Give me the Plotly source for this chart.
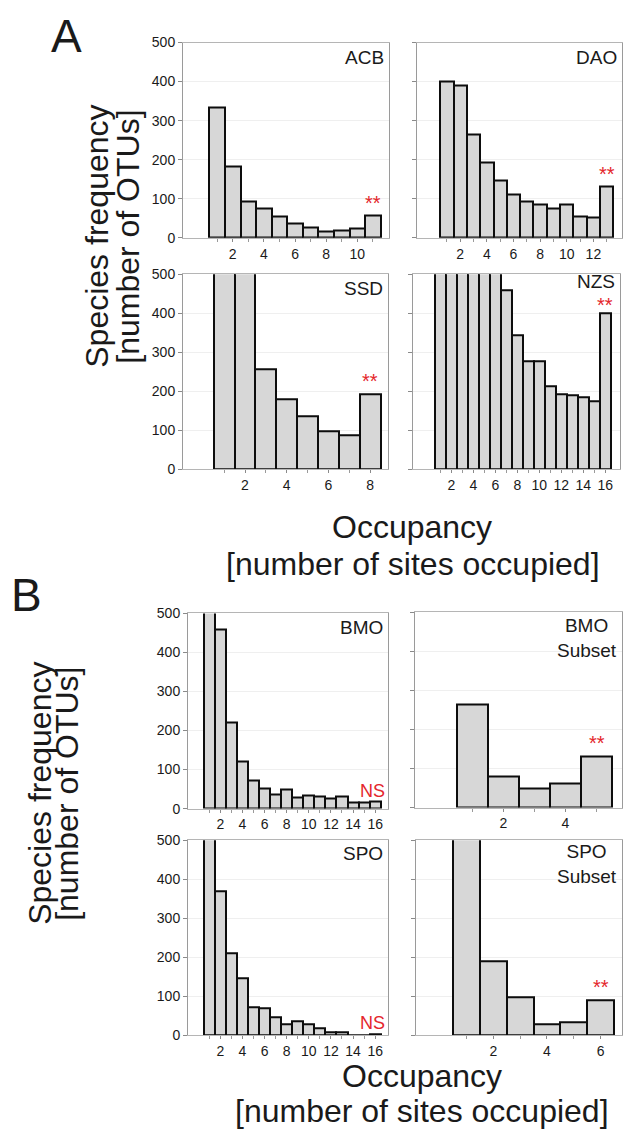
import plotly.graph_objects as go

# ---------------- data ----------------
# Bars that run off the top of the 0-500 axis are clipped in the original; their
# true heights are unknown, so values above 500 are only estimates.
panel_names = ["ACB", "DAO", "SSD", "NZS", "BMO", "BMO<br>Subset", "SPO", "SPO<br>Subset"]
acb = [333, 182, 92, 74, 55, 37, 25, 15, 19, 24, 56]
dao = [399, 391, 265, 193, 147, 111, 92, 84, 76, 84, 55, 53, 130]
ssd = [900, 700, 256, 181, 136, 97, 87, 192]
nzs = [900, 800, 700, 650, 600, 550, 460, 345, 277, 277, 214, 193, 191, 185, 174, 401]
bmo = [800, 460, 221, 120, 72, 51, 36, 49, 30, 35, 31, 27, 31, 17, 17, 18]
bmo_subset = [265, 80, 48, 61, 131]
spo = [700, 369, 211, 146, 72, 69, 46, 28, 36, 30, 19, 8, 7, 1, 0, 3]
spo_subset = [600, 191, 99, 30, 33, 91]
significance = ["**", "**", "**", "**", "NS", "**", "NS", "**"]
y_ticks = [0, 100, 200, 300, 400, 500]

series = [acb, dao, ssd, nzs, bmo, bmo_subset, spo, spo_subset]

# ---------------- layout geometry (pixels) ----------------
W, H = 623, 1140
boxes = [  # x0, x1, y0(top), y1(bottom)
    (183, 389, 35, 233),
    (417, 622, 35, 233),
    (183, 388, 270, 468),
    (413, 620, 270, 468),
    (188, 388, 614, 812),
    (415, 622, 613, 811),
    (188, 388, 844, 1042),
    (416, 622, 844, 1042),
]
xranges = [
    [-1.19, 12.03],
    [-1.25, 14.15],
    [-0.97, 8.85],
    [-1.5, 17.35],
    [-0.92, 17.16],
    [-0.84, 5.82],
    [-0.92, 17.16],
    [-0.89, 6.8],
]
show_ylabels = [True, False, True, False, True, False, True, False]
label_yshift = [-2, -2, -2, 5, -2, -1, -1, 1]
star_yshift = [0, 0, 0, -5, 0, 0, 0, 0]
ns_y = {4: 0.03, 6: 0.0}

FONT = "Liberation Sans, Arial, Helvetica, sans-serif"
RED = "#e4262c"
DARK = "#1a1a1a"

fig = go.Figure()
annotations = []

for i, vals in enumerate(series):
    n = i + 1
    xa = "x" if n == 1 else f"x{n}"
    ya = "y" if n == 1 else f"y{n}"
    cats = list(range(1, len(vals) + 1))
    fig.add_trace(go.Bar(
        x=cats, y=vals, xaxis=xa, yaxis=ya, width=1.0,
        marker=dict(color="#d7d7d7", line=dict(color="#0d0d0d", width=2)),
        showlegend=False, hoverinfo="skip",
    ))
    x0, x1, t, b = boxes[i]
    major = [v for v in cats if v % 2 == 0]
    minor = [v for v in cats if v % 2 == 1]
    axkey_x = "xaxis" if n == 1 else f"xaxis{n}"
    axkey_y = "yaxis" if n == 1 else f"yaxis{n}"
    fig.update_layout(**{
        axkey_x: dict(
            domain=[x0 / W, x1 / W], anchor=ya, range=xranges[i],
            tickmode="array", tickvals=major, ticktext=[str(v) for v in major],
            ticks="outside", ticklen=3, tickcolor="#8a8a8a", tickwidth=1,
            minor=dict(tickmode="array", tickvals=minor, ticks="outside", ticklen=3,
                       tickcolor="#9a9a9a", showgrid=False),
            showline=True, linecolor="#b5b5b5", linewidth=1, mirror=True,
            showgrid=False, zeroline=False,
            tickfont=dict(family=FONT, size=14, color=DARK),
            fixedrange=True,
        ),
        axkey_y: dict(
            domain=[1 - b / H, 1 - t / H], anchor=xa, range=[0, 500],
            tickmode="array", tickvals=y_ticks,
            showticklabels=show_ylabels[i],
            ticks="outside", ticklen=4, tickcolor="#8a8a8a", tickwidth=1,
            showline=True, linecolor="#9a9a9a", linewidth=1, mirror=True,
            showgrid=True, gridcolor="#efefef", gridwidth=1, zeroline=False,
            tickfont=dict(family=FONT, size=14, color=DARK),
            fixedrange=True,
        ),
    })
    # panel label
    annotations.append(dict(
        text=panel_names[i], xref=f"{xa} domain", yref=f"{ya} domain",
        x=1, y=1, xanchor="right", yanchor="top", xshift=-3, yshift=label_yshift[i],
        showarrow=False, align="center",
        font=dict(family=FONT, size=19, color=DARK),
    ))
    # significance label
    if significance[i] == "**":
        annotations.append(dict(
            text="**", xref=xa, yref=ya, x=cats[-1], y=vals[-1],
            xanchor="center", yanchor="bottom", yshift=star_yshift[i],
            showarrow=False, font=dict(family=FONT, size=20, color=RED),
        ))
    else:
        annotations.append(dict(
            text="NS", xref=f"{xa} domain", yref=f"{ya} domain",
            x=1, y=ns_y[i], xanchor="right", yanchor="bottom", xshift=-1,
            showarrow=False, font=dict(family=FONT, size=18, color=RED),
        ))

# panel letters
for letter, (px, py) in {"A": (66, 28), "B": (27, 595)}.items():
    annotations.append(dict(text=letter, xref="paper", yref="paper",
                            x=px / W, y=1 - py / H, xanchor="center", yanchor="middle",
                            showarrow=False, font=dict(family=FONT, size=46, color=DARK)))

# axis titles (one annotation per line)
title_lines = [
    ("Species frequency", 97, 232, -90),
    ("[number of OTUs]", 128, 232, -90),
    ("Occupancy", 412, 526, 0),
    ("[number of sites occupied]", 413, 564, 0),
    ("Species frequency", 40, 797, -90),
    ("[number of OTUs]", 67, 797, -90),
    ("Occupancy", 422, 1083, 0),
    ("[number of sites occupied]", 422, 1119, 0),
]
for txt, px, py, ang in title_lines:
    annotations.append(dict(text=txt, xref="paper", yref="paper",
                            x=px / W, y=1 - py / H, xanchor="center", yanchor="middle",
                            textangle=ang, showarrow=False,
                            font=dict(family=FONT, size=32, color=DARK)))

fig.update_layout(
    width=W, height=H, margin=dict(l=0, r=0, t=0, b=0),
    paper_bgcolor="white", plot_bgcolor="white",
    annotations=annotations, bargap=0, showlegend=False,
)

fig.write_html("out.html", config={"displayModeBar": False})
